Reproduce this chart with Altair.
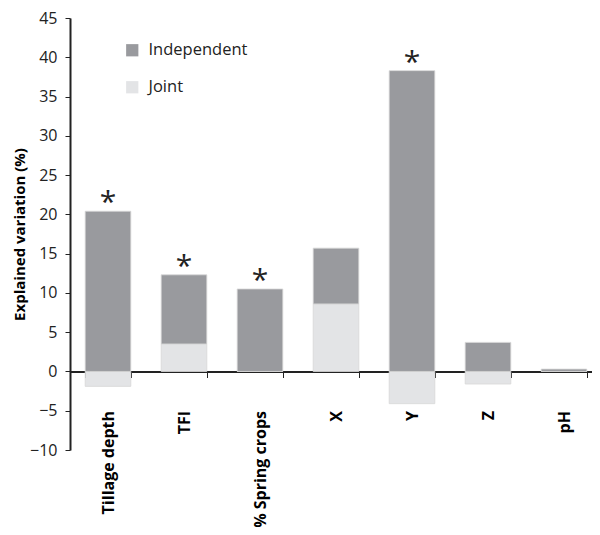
import altair as alt
import pandas as pd

categories = ["Tillage depth", "TFI", "% Spring crops", "X", "Y", "Z", "pH"]
independent = [20.4, 8.8, 10.5, 7.1, 38.3, 3.7, 0.3]
joint = [-1.9, 3.5, 0.0, 8.6, -4.1, -1.6, 0.0]
significant = [True, True, True, False, True, False, False]

rows = []
for c, i, j in zip(categories, independent, joint):
    rows.append({"cat": c, "comp": "Joint", "val": j, "ord": 0})
    rows.append({"cat": c, "comp": "Independent", "val": i, "ord": 1})
df = pd.DataFrame(rows)

stars = pd.DataFrame({
    "cat": [c for c, s in zip(categories, significant) if s],
    "top": [i + max(j, 0) for i, j, s in zip(independent, joint, significant) if s],
    "label": ["*" for s in significant if s],
})

FONT = "Open Sans"

xaxis = alt.Axis(orient="bottom", offset=-78.5, labelAngle=-90,
                 labelAlign="right", labelBaseline="middle",
                 labelFontWeight="bold", labelFontSize=16, labelColor="black",
                 labelPadding=33, tickBand="extent", tickSize=6,
                 tickColor="#222", domainColor="#222", domainWidth=2,
                 labelFont=FONT)
xscale = alt.Scale(paddingInner=0.4, paddingOuter=0.2, range=[0, 532])

yscale = alt.Scale(domain=[-10, 45], nice=False, zero=False)
yaxis = alt.Axis(values=list(range(-10, 50, 5)), grid=False,
                 labelOverlap=False,
                 labelFontSize=16, labelColor="#222", labelFont=FONT,
                 titleFont=FONT, titleFontSize=15, titleFontWeight="bold",
                 titleColor="black", titlePadding=2,
                 tickSize=5, tickColor="#222", domainColor="#222",
                 domainWidth=2, labelPadding=8)

bars = alt.Chart(df).mark_bar(stroke="#d8d8d8", strokeWidth=0.8).encode(
    x=alt.X("cat:N", sort=categories, title=None, scale=xscale, axis=xaxis),
    y=alt.Y("sum(val):Q", stack="zero", scale=yscale,
            title="Explained variation (%)", axis=yaxis),
    color=alt.Color("comp:N",
                    scale=alt.Scale(domain=["Independent", "Joint"],
                                    range=["#999A9E", "#E3E4E6"]),
                    legend=alt.Legend(title=None, orient="none", legendX=54, legendY=24,
                                      symbolType="square", symbolSize=150,
                                      symbolStrokeWidth=0, labelFontSize=16.5,
                                      labelFont=FONT, labelColor="#222",
                                      rowPadding=20, labelOffset=8)),
    order=alt.Order("ord:Q"),
)

star_text = alt.Chart(stars).mark_text(fontSize=30, font=FONT, fontWeight="normal",
                                       baseline="middle", dy=-8, color="#222").encode(
    x=alt.X("cat:N", sort=categories, title=None, scale=xscale, axis=xaxis),
    y=alt.Y("top:Q", scale=yscale, title="Explained variation (%)", axis=yaxis),
    text="label:N",
)

chart = alt.layer(bars, star_text).properties(
    width=522, height=432,
    autosize=alt.AutoSizeParams(type="none"),
    padding={"left": 62, "top": 10, "right": 0, "bottom": 77},
).configure_view(stroke=None)

chart.save("out.html", embed_options={"renderer": "svg", "actions": False})
